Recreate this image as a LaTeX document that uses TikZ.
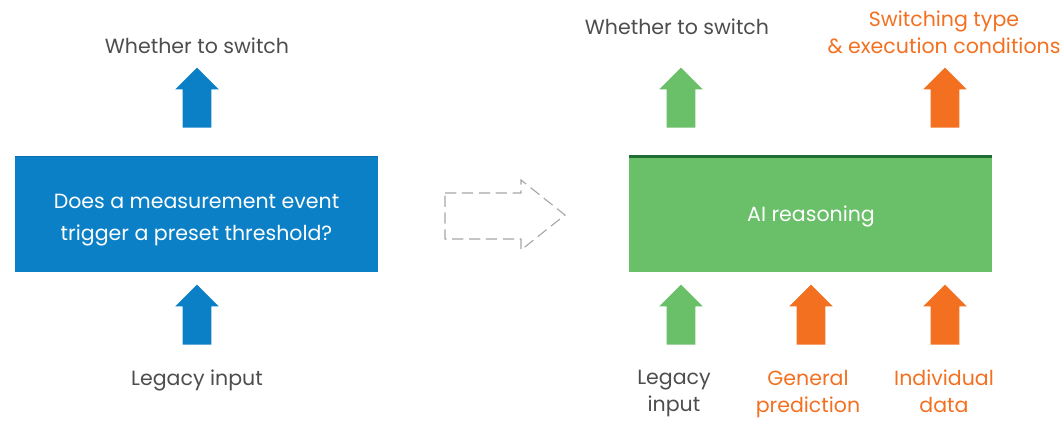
\documentclass[tikz,border=0pt]{standalone}
\usepackage{fontspec}
\setmainfont{Poppins}
\usetikzlibrary{shapes.arrows}

\definecolor{qblue}{HTML}{0B80C6}
\definecolor{qbluedark}{HTML}{0A6FB0}
\definecolor{qgreen}{HTML}{6ABF69}
\definecolor{qgreendark}{HTML}{1E6E36}
\definecolor{qorange}{HTML}{F37021}
\definecolor{qtext}{HTML}{4D4D4D}
\definecolor{qdash}{HTML}{A3A8AB}

\begin{document}
\begin{tikzpicture}[
    x=0.025cm, y=-0.025cm,
    block/.style  = {rectangle, minimum width=9.075cm, minimum height=2.875cm, inner sep=0pt},
    boxtext/.style = {align=center, text=white, inner sep=0pt, font=\fontsize{14.6}{22.5}\selectfont},
    label/.style  = {align=center, text=qtext, inner sep=0pt, font=\fontsize{14.6}{19.2}\selectfont},
    uparrow/.style = {single arrow, rotate=90, anchor=tail, draw=none, inner xsep=0pt, inner ysep=0.35cm,
                      single arrow head extend=0.1875cm, single arrow tip angle=90, minimum height=1.5cm},
  ]

	\useasboundingbox (0,0) rectangle (1062,421);

	% linke Seite
	\node[block, fill=qblue] (B) at (196.5,214.5) {};
	\draw[qbluedark, line width=0.5pt] (B.north west) -- (B.north east);
	\node[boxtext] (Btext) at (196.5,220) {Does a measurement event\\trigger a preset threshold?};
	\node[uparrow, fill=qblue] (Bout) at (197,128) {};
	\node[uparrow, fill=qblue] (Bin) at (197,345) {};
	\node[label] (Btop) at (197,46) {Whether to switch};
	\node[label] (Bbot) at (197,380) {Legacy input};

	% gestrichelter Pfeil
	\coordinate (D1) at (445,193);
	\coordinate (D2) at (521,193);
	\coordinate (D3) at (521,180);
	\coordinate (D4) at (565,215);
	\coordinate (D5) at (521,250);
	\coordinate (D6) at (521,239);
	\coordinate (D7) at (445,239);
	\draw[qdash, line width=0.8pt, dash pattern=on 8pt off 4pt] (D1) -- (D2) -- (D3) -- (D4) -- (D5) -- (D6) -- (D7) -- cycle;

	% rechte Seite
	\node[block, fill=qgreen] (G) at (810.5,214.5) {};
	\draw[qgreendark, line width=2.5pt] (G.north west) -- (G.north east);
	\node[boxtext] (Gtext) at (811,216) {AI reasoning};
	\node[uparrow, fill=qgreen] (Gout) at (681,128) {};
	\node[uparrow, fill=qorange] (Oout) at (945,128) {};
	\node[uparrow, fill=qgreen] (Gin) at (681,345) {};
	\node[uparrow, fill=qorange] (Pin) at (811,345) {};
	\node[uparrow, fill=qorange] (Iin) at (945,345) {};

	\node[label] (Gtop) at (677,27) {Whether to switch};
	\node[label, text=qorange] (Otop) at (944,32.5) {Switching type\\\& execution conditions};
	\node[label] (Gbot) at (674,393.5) {Legacy\\input};
	\node[label, text=qorange] (Pbot) at (808,394.5) {General\\prediction};
	\node[label, text=qorange] (Ibot) at (944,391.5) {Individual\\data};

\end{tikzpicture}
\end{document}
